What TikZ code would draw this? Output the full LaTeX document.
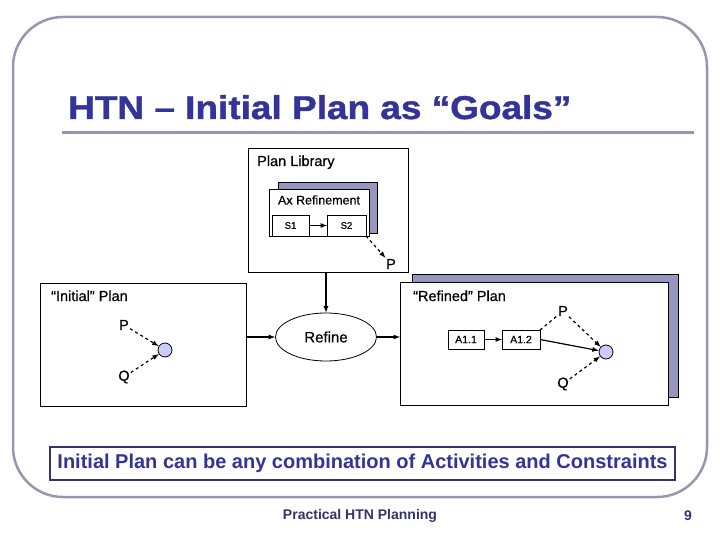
\documentclass[tikz,border=0pt]{standalone}
\usepackage{fontspec}
\setmainfont{Liberation Sans}
\newfontfamily\titlefont{Liberation Sans}[BoldFeatures={FakeBold=1.2}]
\newfontfamily\labelfont{Liberation Sans}[FakeBold=0.6]
\usetikzlibrary{arrows}
\usetikzlibrary{shapes.geometric}
\definecolor{titleblue}{RGB}{51,51,153}
\definecolor{framegray}{RGB}{150,150,172}
\definecolor{shadowblue}{RGB}{150,150,190}
\definecolor{goalfill}{RGB}{204,204,255}
\definecolor{navy}{RGB}{51,51,110}
\tikzset{
      plan/.style={draw=black, line width=0.8, fill=white, inner sep=0, outer sep=0},
      shade/.style={draw=black, line width=0.8, fill=shadowblue, inner sep=0, outer sep=0},
      activity/.style={plan, font=\labelfont\fontsize{10.5}{12}\selectfont},
      goal/.style={circle, draw=black, line width=0.8, fill=goalfill, minimum size=14, inner sep=0},
      lbl/.style={font=\labelfont\fontsize{14.5}{16}\selectfont, inner sep=1},
      link/.style={->, >=latex, line width=1.2},
      constraint/.style={->, >=latex, dashed, line width=1.2},
}

\begin{document}
\begin{tikzpicture}[x=1pt, y=-1pt]
        \useasboundingbox (0,0) rectangle (720,540);

        % Slide frame and title
        \draw[framegray, line width=2.5, rounded corners=50] (13,17) rectangle (707,497);
        \node[anchor=base west, inner sep=0, text=titleblue] (title) at (68,119)
            {\scalebox{1.12}[1]{\titlefont\bfseries\fontsize{33}{36}\selectfont HTN – Initial Plan as “Goals”}};
        \draw[framegray, line width=3] (62,133) -- (694,133);

        % Plan library
        \node[plan, minimum width=160, minimum height=124] (lib) at (328,210) {};
        \node[lbl, anchor=base west] (libtxt) at (256,166) {Plan Library};
        \node[shade, minimum width=99, minimum height=51] (axshade) at (327.5,207.5) {};
        \node[plan, minimum width=100, minimum height=47] (ax) at (319,212.5) {};
        \node[lbl, font=\labelfont\fontsize{12.5}{14}\selectfont] (axtxt) at (319,200) {Ax Refinement};
        \node[activity, minimum width=37, minimum height=21, font=\labelfont\fontsize{9.5}{10}\selectfont] (s1) at (290.5,225.5) {S1};
        \node[activity, minimum width=39, minimum height=21, font=\labelfont\fontsize{9.5}{10}\selectfont] (s2) at (346.5,225.5) {S2};
        \draw[link] (s1) -- (s2);
        \node[lbl] (plib) at (391,264) {P};
        \draw[constraint] (s2.south east) -- (plib);

        % Initial plan
        \node[plan, minimum width=206, minimum height=123] (initial) at (143,344.5) {};
        \node[lbl, anchor=base west] (initxt) at (50,301) {“Initial” Plan};
        \node[goal] (goalA) at (165,350) {};
        \node[lbl] (pA) at (124,325) {P};
        \node[lbl] (qA) at (124,377) {Q};
        \draw[constraint] (pA) -- (goalA);
        \draw[constraint] (qA) -- (goalA);

        % Refine step
        \node[ellipse, draw=black, line width=0.8, minimum width=101, minimum height=48,
            font=\labelfont\fontsize{15}{17}\selectfont] (refine) at (326,337) {Refine};
        \draw[link] (lib.south -| refine.north) -- (refine.north);
        \draw[link] (refine.west -| initial.east) -- (refine.west);

        % Refined plan
        \node[shade, minimum width=266, minimum height=123] (refshade) at (545,335.5) {};
        \node[plan, minimum width=268, minimum height=123] (refined) at (534,343.5) {};
        \draw[link] (refine.east) -- (refine.east -| refined.west);
        \node[lbl, anchor=base west] (reftxt) at (412,301) {“Refined” Plan};
        \node[activity, minimum width=36, minimum height=19] (a11) at (466,339.5) {A1.1};
        \node[activity, minimum width=38, minimum height=19] (a12) at (521,339.5) {A1.2};
        \node[goal] (goalB) at (606,352) {};
        \node[lbl] (pB) at (563,311) {P};
        \node[lbl] (qB) at (563,384) {Q};
        \draw[link] (a11) -- (a12);
        \draw[dashed, line width=1.2] (a12.north east) -- (pB);
        \draw[link] (a12.east) -- (goalB);
        \draw[constraint] (pB) -- (goalB);
        \draw[constraint] (qB) -- (goalB);

        % Note and footer
        \node[draw=navy, line width=1.8, minimum width=625, minimum height=33, inner sep=0,
            text=titleblue, font=\bfseries\fontsize{20}{22}\selectfont] (note) at (362.5,463.5)
            {Initial Plan can be any combination of Activities and Constraints};
        \node[text=navy, font=\bfseries\fontsize{14}{15}\selectfont] (footer) at (360,516) {Practical HTN Planning};
        \node[text=navy, font=\bfseries\fontsize{14}{15}\selectfont] (pageno) at (688,516) {9};

    \end{tikzpicture}
\end{document}
